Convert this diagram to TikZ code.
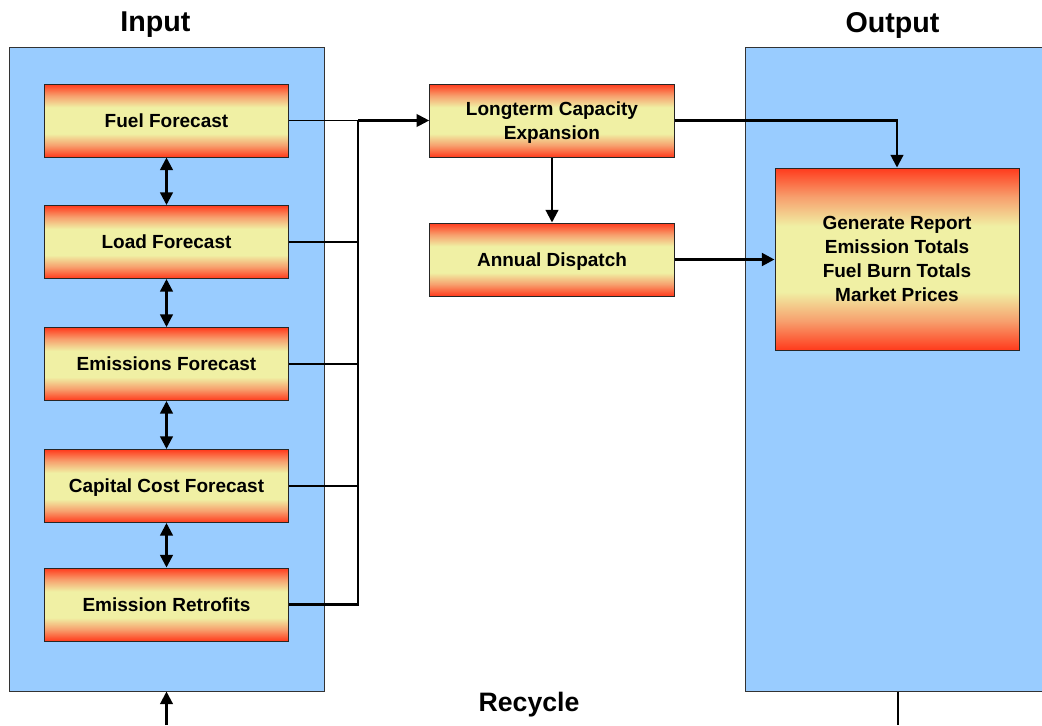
\documentclass[tikz,border=0pt]{standalone}
\usepackage{fontspec}
\setmainfont{Liberation Sans}
\usetikzlibrary{arrows.meta,calc,positioning}
\definecolor{panelblue}{RGB}{153,204,255}
\definecolor{boxred}{RGB}{255,58,28}
\definecolor{boxorange}{RGB}{247,160,110}
\definecolor{boxyellow}{RGB}{240,240,164}
\pgfdeclareverticalshading{stageshade}{100bp}{color(0bp)=(boxred); color(25bp)=(boxred); color(33bp)=(boxorange); color(41bp)=(boxyellow); color(59bp)=(boxyellow); color(67bp)=(boxorange); color(75bp)=(boxred); color(100bp)=(boxred)}

\begin{document}
\begin{tikzpicture}[x=0.75pt,y=-0.75pt,
  panel/.style={draw=black!80,fill=panelblue,line width=0.75pt,minimum height=483pt,inner sep=0pt},
  stage/.style={draw=black!85,line width=0.75pt,shading=stageshade,minimum width=183.5pt,minimum height=54.75pt,
    inner sep=0pt,text depth=0pt,align=center,font=\bfseries\fontsize{14.25}{18}\selectfont},
  title/.style={font=\bfseries\fontsize{21.5}{26}\selectfont},
  tip/.tip={Triangle[length=9.5pt,width=9.5pt]},
  link/.style={-tip,line width=1.6pt},
  twoway/.style={tip-tip,line width=1.8pt},
  wire/.style={line width=0.85pt},
  bus/.style={line width=1.8pt}]
\clip (0,0) rectangle (1042,725);

% panels and titles
\node[panel,minimum width=236.25pt] (inpanel) at (166.5,369) {};
\node[panel,minimum width=229.5pt] (outpanel) at (898,369) {};
\node[title] (intitle) at (155.5,25) {Input};
\node[title] (outtitle) at (892.5,25) {Output};
\node[font=\bfseries\fontsize{20}{24}\selectfont] (recycle) at (529,705) {Recycle};

% forecasts
\node[stage] (fuel) at (166.5,120.5) {Fuel Forecast};
\node[stage] (load) at (166.5,242) {Load Forecast};
\node[stage] (emis) at (166.5,364) {Emissions Forecast};
\node[stage] (capcost) at (166.5,486) {Capital Cost Forecast};
\node[stage] (retro) at (166.5,604.5) {Emission Retrofits};

% model
\node[stage] (expand) at (552,120.5) {Longterm Capacity\\Expansion};
\node[stage,below=48.75pt of expand] (dispatch) {Annual Dispatch};
\node[stage,minimum width=183pt,minimum height=136.5pt] (report) at (897,259)
  {Generate Report\\Emission Totals\\Fuel Burn Totals\\Market Prices};

\path (fuel) edge[twoway] (load)
      (load) edge[twoway] (emis)
      (emis) edge[twoway] (capcost)
      (capcost) edge[twoway] (retro);

% collector line
\coordinate (jn) at (358,120.5);
\draw[wire] (fuel.east) -- (jn);
\draw[wire] (load.east) -- (load.east -| jn);
\draw[wire] (emis.east) -- (emis.east -| jn);
\draw[wire] (capcost.east) -- (capcost.east -| jn);
\draw[bus] (retro.east) -| (jn);
\draw[link] (jn) -- (expand.west |- jn);

\draw[link] (expand) -- (dispatch);
\draw[link] (expand.east) -| (report.north);
\draw[link,line width=2.2pt] (dispatch.east) -- (dispatch.east -| report.west);

% recycle
\coordinate (inbot) at (166.5,725);
\coordinate (outbot) at (898,725);
\draw[link] (inbot) -- (inpanel.south);
\draw[bus] (outpanel.south) -- (outbot);
\end{tikzpicture}
\end{document}
